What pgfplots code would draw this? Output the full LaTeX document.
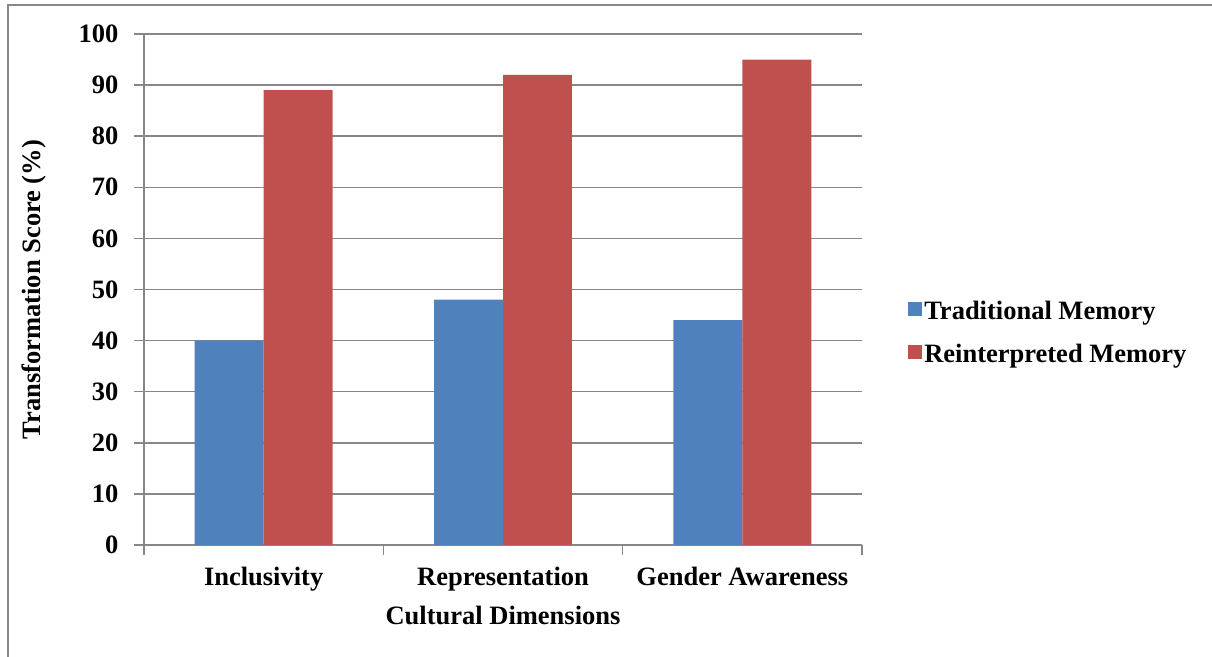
\documentclass[border=0pt]{standalone}
\usepackage{pgfplots}
\pgfplotsset{compat=1.18}
\usepackage{fontspec}
\setmainfont{Liberation Serif}
\definecolor{tradblue}{HTML}{4F81BD}
\definecolor{reinred}{HTML}{C0504D}
\definecolor{axgray}{HTML}{878787}
\newcommand{\cf}{\fontsize{26.5bp}{31bp}\selectfont\bfseries}
\begin{document}
\begin{tikzpicture}
\path[use as bounding box] (0,0) rectangle (1212bp,657bp);
\draw[axgray, line width=2bp] (8bp,-2bp) -- (8bp,652bp) -- (1214bp,652bp);
\begin{axis}[
  at={(144bp,112bp)}, anchor=south west,
  scale only axis, width=718bp, height=511bp,
  xmin=-0.5, xmax=2.5, ymin=0, ymax=100,
  ybar=0pt, bar width=0.288,
  axis x line*=bottom, axis y line*=left,
  axis line style={axgray, line width=1.5bp, -},
  tick align=outside,
  major tick length=10bp,
  tick style={axgray, line width=1.5bp},
  xtick={-0.5,0.5,1.5,2.5}, xticklabels={},
  extra x ticks={0,1,2},
  extra x tick labels={Inclusivity,Representation,Gender Awareness},
  extra x tick style={major tick length=0pt, grid=none},
  ytick={0,10,...,100},
  ymajorgrids, xmajorgrids=false,
  grid style={axgray, line width=1.5bp},
  /pgf/number format/assume math mode=true,
  tick label style={font=\cf, black},
  xticklabel style={yshift=-19bp},
  yticklabel style={xshift=-12bp},
  ylabel={Transformation Score (\%)},
  xlabel={Cultural Dimensions},
  label style={font=\cf},
  ylabel style={at={(axis description cs:-0.153,0.5)}, anchor=center},
  xlabel style={at={(axis description cs:0.5,-0.1546)}, anchor=base},
  legend style={at={(axis description cs:1.06,0.415)}, anchor=west,
    draw=none, fill=none, font=\cf, row sep=19bp,
    nodes={inner sep=2bp}},
  legend cell align=left,
]
\addplot[fill=tradblue, draw=none,
  legend image code/.code={\fill[tradblue] (0bp,-5bp) rectangle (14bp,9bp);}]
  coordinates {(0,40) (1,48) (2,44)};
\addplot[fill=reinred, draw=none,
  legend image code/.code={\fill[reinred] (0bp,-5bp) rectangle (14bp,9bp);}]
  coordinates {(0,89) (1,92) (2,95)};
\legend{Traditional Memory, Reinterpreted Memory}
\end{axis}
\end{tikzpicture}
\end{document}
